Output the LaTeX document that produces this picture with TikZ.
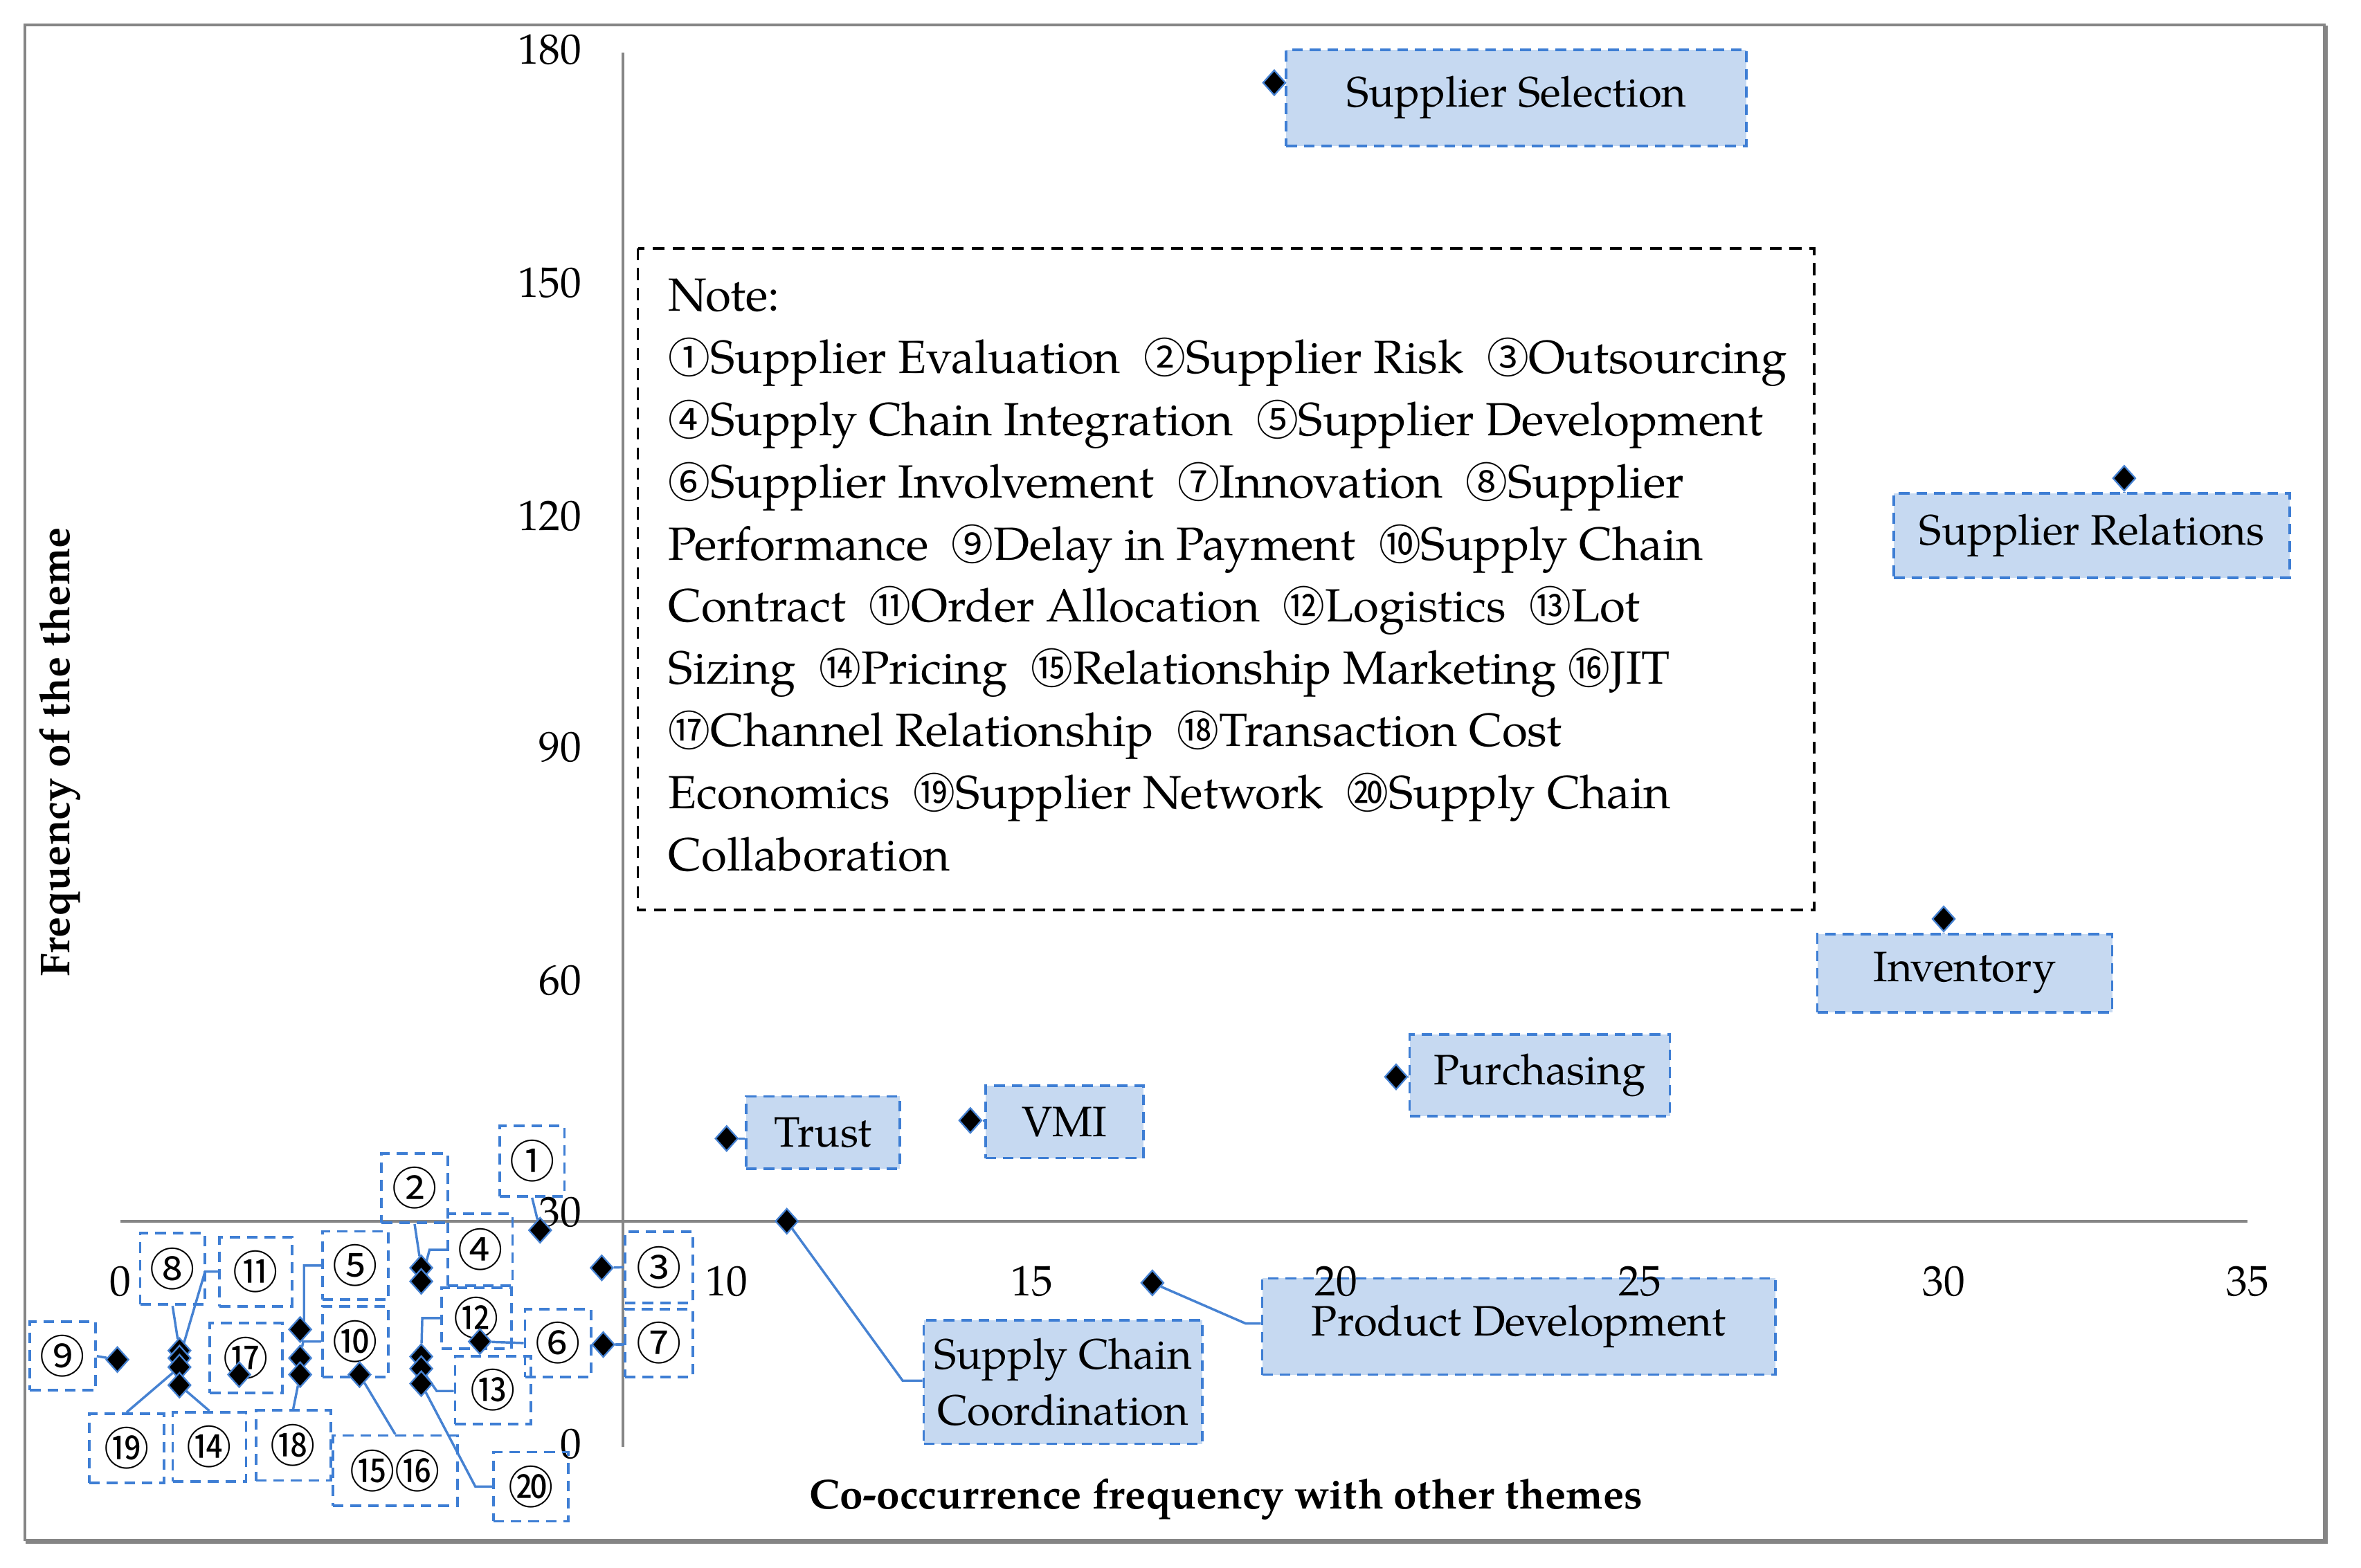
\documentclass[tikz,border=0pt]{standalone}
\usepackage{fontspec}
\setmainfont{texgyrepagella}[Extension=.otf, UprightFont=*-regular, BoldFont=*-bold, ItalicFont=*-italic, BoldItalicFont=*-bolditalic]
\newfontfamily\cjk{Noto Sans CJK SC}
\usetikzlibrary{shapes.geometric}
\definecolor{boxfill}{RGB}{198,217,241}
\definecolor{boxline}{RGB}{62,126,212}
\definecolor{connc}{RGB}{70,130,210}
\definecolor{axisgray}{RGB}{134,134,134}
\definecolor{framegray}{RGB}{133,133,133}
\pgfdeclarelayer{bg}
\pgfdeclarelayer{paper}
\pgfsetlayers{paper,bg,main}
\tikzset{
  txt/.style={inner sep=0pt},
  bsize/.style 2 args={minimum width=#1*0.01988cm, minimum height=#2*0.01988cm},
  lbl/.style={draw=boxline, fill=boxfill, line width=1pt, dash pattern=on 4pt off 2.6pt,
              inner sep=0pt, align=center, font=\fontsize{16}{21}\selectfont},
  nbox/.style={draw=boxline, line width=1pt, dash pattern=on 4pt off 2.6pt,
              inner sep=0pt, font=\cjk\fontsize{17}{18}\selectfont},
  mk/.style={diamond, fill=black, draw=connc, line width=0.6pt, inner sep=0pt,
             minimum width=8.6pt, minimum height=9.6pt},
  cn/.style={draw=connc, line width=0.9pt},
  axl/.style={draw=axisgray, line width=0.9pt},
  tick/.style={font=\fontsize{16}{18}\selectfont, inner sep=0pt},
  ttl/.style={font=\bfseries\fontsize{15.7}{18}\selectfont, inner sep=0pt}
}
\newcommand\cc[1]{{\cjk\fontsize{15.8}{23.24}\selectfont #1}}
\begin{document}
\begin{tikzpicture}[x=0.01988cm, y=-0.01988cm]
\begin{pgfonlayer}{paper}
\fill[white] (0,0) rectangle (1569.4,1042.2);
\end{pgfonlayer}
\useasboundingbox (0,0) rectangle (1569.4,1042.2);
% frame
\draw[framegray, line width=0.9pt] (16.5,16.5) rectangle (1545,1024);
\draw[framegray, line width=1.6pt] (1546,17) -- (1546,1025) -- (17,1025);
% axes
\begin{pgfonlayer}{bg}
\draw[axl] (414,35) -- (414,962);
\draw[axl] (80,812) -- (1494,812);
\end{pgfonlayer}
% axis titles
\node[ttl] (xt) at (815,997) {Co-occurrence frequency with other themes};
\node[ttl, rotate=90] (yt) at (40,500) {Frequency of the theme};
% note box
\draw[black, line width=1pt, dash pattern=on 4.5pt off 3pt] (424,165) rectangle (1206,605);
\node[txt, anchor=north west, align=left, font=\fontsize{17.5}{23.4}\selectfont] (note) at (444,185) {Note:\\
\cc{①}Supplier Evaluation\ \ \cc{②}Supplier Risk\ \ \cc{③}Outsourcing\\
\cc{④}Supply Chain Integration\ \ \cc{⑤}Supplier Development\\
\cc{⑥}Supplier Involvement\ \ \cc{⑦}Innovation\ \ \cc{⑧}Supplier\\
Performance\ \ \cc{⑨}Delay in Payment\ \ \cc{⑩}Supply Chain\\
Contract\ \ \cc{⑪}Order Allocation\ \ \cc{⑫}Logistics\ \ \cc{⑬}Lot\\
Sizing\ \ \cc{⑭}Pricing\ \ \cc{⑮}Relationship Marketing \cc{⑯}JIT\\
\cc{⑰}Channel Relationship\ \ \cc{⑱}Transaction Cost\\
Economics\ \ \cc{⑲}Supplier Network\ \ \cc{⑳}Supply Chain\\
Collaboration};
% big label boxes
\node[lbl, bsize={306}{64}] (SS) at (1008,65) {Supplier Selection};
\node[lbl, bsize={263}{56}] (SR) at (1390.5,356) {Supplier Relations};
\node[lbl, bsize={196}{52}] (Inv) at (1306,647) {Inventory};
\node[lbl, bsize={173}{54}] (Pur) at (1023.5,715) {Purchasing};
\node[lbl, bsize={105}{48}] (VMI) at (707.5,746) {VMI};
\node[lbl, bsize={102}{48}] (Tru) at (547,753) {Trust};
\node[lbl, bsize={185}{82}] (SCC) at (706.5,919) {Supply Chain\\Coordination};
\node[lbl, bsize={341}{64}] (PD) at (1009.5,882) {Product Development};
% big markers
\node[mk] (mSS) at (847,55) {};
\node[mk] (mSR) at (1412,318) {};
\node[mk] (mInv) at (1292,611) {};
\node[mk] (mPur) at (928,716) {};
\node[mk] (mVMI) at (645,745) {};
\node[mk] (mTru) at (483,757) {};
\node[mk] (mSCC) at (523,812) {};
\node[mk] (mPD) at (766,853) {};
\coordinate (kSCC) at (600,918);
\coordinate (kPD) at (828,880);
\begin{pgfonlayer}{bg}
\draw[cn] (mSS) -- (mSS -| SS.west);
\draw[cn] (mSR) -- (mSR |- SR.north);
\draw[cn] (mInv) -- (mInv |- Inv.north);
\draw[cn] (mPur) -- (mPur -| Pur.west);
\draw[cn] (mVMI) -- (mVMI -| VMI.west);
\draw[cn] (mTru) -- (mTru -| Tru.west);
\draw[cn] (mSCC) -- (kSCC) -- (kSCC -| SCC.west);
\draw[cn] (mPD) -- (kPD) -- (kPD -| PD.west);
\end{pgfonlayer}
% tick labels
\node[tick, anchor=east] (y180) at (387,33) {180};
\node[tick, anchor=east] (y150) at (387,188) {150};
\node[tick, anchor=east] (y120) at (387,343) {120};
\node[tick, anchor=east] (y90) at (387,497) {90};
\node[tick, anchor=east] (y60) at (387,652) {60};
\node[tick, anchor=east] (y30) at (387,806) {30};
\node[tick, anchor=east] (y0) at (387,960) {0};
\node[tick] (x0) at (80,852) {0};
\node[tick] (x10) at (483,852) {10};
\node[tick] (x15) at (686,852) {15};
\node[tick] (x20) at (888,852) {20};
\node[tick] (x25) at (1090,852) {25};
\node[tick] (x30) at (1292,852) {30};
\node[tick] (x35) at (1494,852) {35};
% small numbered boxes
\node[nbox, bsize={43}{47}] (B1) at (353.7,772) {①};
\node[nbox, bsize={44}{46}] (B2) at (275.6,790) {②};
\node[nbox, bsize={45}{47.6}] (B3) at (437.9,842.6) {③};
\node[nbox, bsize={43}{48}] (B4) at (319.2,831) {④};
\node[nbox, bsize={44}{45.5}] (B5) at (236.3,841.5) {⑤};
\node[nbox, bsize={44}{45}] (B6) at (371,893) {⑥};
\node[nbox, bsize={45}{45}] (B7) at (437.9,893) {⑦};
\node[nbox, bsize={43}{47.7}] (B8) at (114.7,843.6) {⑧};
\node[nbox, bsize={43.6}{45.6}] (B9) at (41.7,901.7) {⑨};
\node[nbox, bsize={44}{47}] (B10) at (236.3,892) {⑩};
\node[nbox, bsize={48}{46}] (B11) at (170,845.5) {⑪};
\node[nbox, bsize={46.5}{40.7}] (B12) at (316.8,876.4) {⑫};
\node[nbox, bsize={50.4}{45}] (B13) at (327.7,924.4) {⑬};
\node[nbox, bsize={48.8}{46}] (B14) at (139.2,962) {⑭};
\node[nbox, bsize={82.7}{46.6}] (B1516) at (262.7,977.8) {⑮⑯};
\node[nbox, bsize={48}{46.7}] (B17) at (163.6,903) {⑰};
\node[nbox, bsize={49.7}{46.6}] (B18) at (194.9,961.1) {⑱};
\node[nbox, bsize={49.8}{46}] (B19) at (84.2,962.9) {⑲};
\node[nbox, bsize={50}{46}] (B20) at (352.9,988.5) {⑳};
% small markers
\node[mk] (m1) at (359,818) {};
\node[mk] (m2) at (280,843) {};
\node[mk] (m4) at (280,852) {};
\node[mk] (m3) at (400,843) {};
\node[mk] (m7) at (401,894) {};
\node[mk] (m6) at (319,892) {};
\node[mk] (m5) at (199.5,884) {};
\node[mk] (m10) at (199.5,903) {};
\node[mk] (m18) at (199.5,914) {};
\node[mk] (m15) at (239,914) {};
\node[mk] (m12) at (280,902) {};
\node[mk] (m13) at (280,910) {};
\node[mk] (m20) at (280,920) {};
\node[mk] (m8) at (119.3,898) {};
\node[mk] (m11) at (119.3,903) {};
\node[mk] (m19) at (119.3,909) {};
\node[mk] (m14) at (119.3,921) {};
\node[mk] (m17) at (159,914) {};
\node[mk] (m9) at (78,904) {};
% small connectors
\coordinate (k4) at (285.5,831);
\coordinate (k12) at (280.7,876.4);
\coordinate (k13) at (290.3,924.9);
\coordinate (k20) at (316,988.5);
\coordinate (k5a) at (202.1,841.5);
\coordinate (k5b) at (202.1,878);
\coordinate (k10) at (201.5,892);
\coordinate (k11) at (136.3,845.5);
\begin{pgfonlayer}{bg}
\draw[cn] (B1.south) -- (m1);
\draw[cn] (B2.south) -- (m2);
\draw[cn] (B4.west) -- (k4) -- (m4);
\draw[cn] (m3) -- (B3.west);
\draw[cn] (m7) -- (m7 -| B7.west);
\draw[cn] (B6.west) -- (m6);
\draw[cn] (B12.west) -- (k12) -- (m12);
\draw[cn] (B13.west |- k13) -- (k13) -- (m13);
\draw[cn] (B20.west) -- (k20) -- (m20);
\draw[cn] (B5.west) -- (k5a) -- (k5b) -- (m5);
\draw[cn] (B10.west) -- (k10) -- (m10);
\draw[cn] (B18.north) -- (m18);
\draw[cn] (m15) -- (B1516.north);
\draw[cn] (B9.east) -- (m9);
\draw[cn] (B8.south) -- (m8);
\draw[cn] (B11.west) -- (k11) -- (m11);
\draw[cn] (B19.north) -- (m19);
\draw[cn] (B14.north) -- (m14);
\end{pgfonlayer}
\end{tikzpicture}
\end{document}
